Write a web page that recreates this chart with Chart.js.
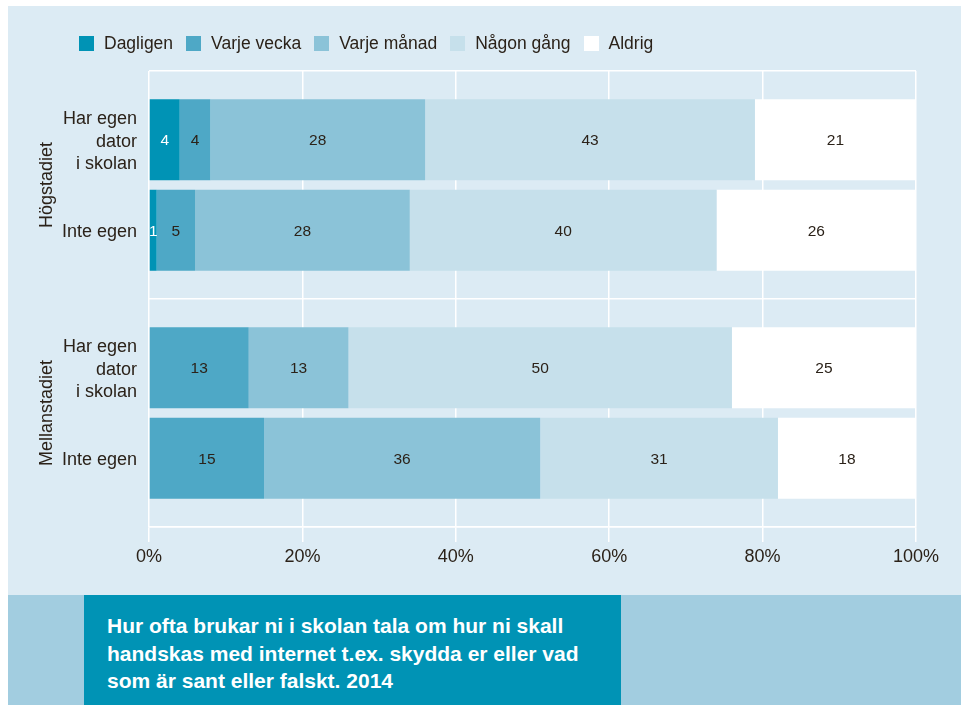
<!DOCTYPE html>
<html lang="sv">
<head>
<meta charset="UTF-8">
<title>Internet i skolan 2014</title>
<script src="https://cdn.jsdelivr.net/npm/chart.js"></script>
<style>
    body {
        margin: 0;
        background: #fff;
        font-family: "Liberation Sans", Arial, sans-serif;
        color: #2b2219;
    }
    .panel {
        position: absolute;
        left: 8px;
        top: 6px;
        width: 953px;
        height: 589px;
        background: #dcebf4;
    }
    .panel canvas {
        position: absolute;
        left: 0;
        top: 0;
    }
    #legend {
        position: absolute;
        left: 71px;
        top: 27px;
        display: flex;
        gap: 13px;
        font-size: 17.5px;
    }
    #legend .item {
        display: flex;
        align-items: center;
    }
    #legend .box {
        width: 15px;
        height: 15px;
        margin-right: 10px;
    }
    .band {
        position: absolute;
        left: 8px;
        top: 595px;
        width: 953px;
        height: 110px;
        background: #a2cde0;
    }
    .caption {
        position: absolute;
        left: 84px;
        top: 595px;
        width: 537px;
        height: 110px;
        box-sizing: border-box;
        padding: 17px 0 0 23px;
        background: #0093b5;
        color: #fff;
        font-weight: bold;
        font-size: 21px;
        line-height: 27.5px;
        white-space: nowrap;
    }
</style>
</head>
<body>
    <div class="panel">
        <canvas id="chart" width="953" height="589"></canvas>
        <div id="legend"></div>
    </div>
    <div class="band"></div>
    <div class="caption">Hur ofta brukar ni i skolan tala om hur ni skall<br>handskas med internet t.ex. skydda er eller vad<br>som är sant eller falskt. 2014</div>

<script>
    const stages = ['Högstadiet', 'Mellanstadiet'];
    const owners = [['Har egen', 'dator', 'i skolan'], ['Inte egen']];
    const frequencies = ['Dagligen', 'Varje vecka', 'Varje månad', 'Någon gång', 'Aldrig'];
    const colors = ['#0093b5', '#4ea8c6', '#8bc3d8', '#c6e0eb', '#ffffff'];

    // procent, i ordningen Dagligen .. Aldrig
    const hogstadietEgen = [4, 4, 28, 43, 21];
    const hogstadietInte = [1, 5, 28, 40, 26];
    const mellanstadietEgen = [0, 13, 13, 50, 25];
    const mellanstadietInte = [0, 15, 36, 31, 18];

    const xTicks = [0, 20, 40, 60, 80, 100];

    const textColor = '#2b2219';
    const fontFamily = '"Liberation Sans", Arial, sans-serif';

    const byOwner = [
        [hogstadietEgen, mellanstadietEgen],
        [hogstadietInte, mellanstadietInte]
    ];

    // one stack per owner group, so each stage gets two bars
    const datasets = [];
    byOwner.forEach((rows, o) => {
        frequencies.forEach((name, f) => {
            datasets.push({
                label: name,
                stack: 'owner' + o,
                data: rows.map(r => r[f]),
                backgroundColor: colors[f],
                categoryPercentage: 0.794,
                barPercentage: 0.895
            });
        });
    });

    const valueLabels = {
        id: 'valueLabels',
        afterDatasetsDraw(chart) {
            const { ctx, chartArea } = chart;
            ctx.save();
            ctx.font = '15.5px ' + fontFamily;
            ctx.textAlign = 'center';
            ctx.textBaseline = 'middle';
            chart.data.datasets.forEach((ds, i) => {
                chart.getDatasetMeta(i).data.forEach((bar, j) => {
                    const v = ds.data[j];
                    if (!v) return;
                    const right = Math.min(bar.x, chartArea.right);
                    ctx.fillStyle = ds.backgroundColor === colors[0] ? '#fff' : textColor;
                    ctx.fillText(v, (bar.base + right) / 2, bar.y + 1);
                });
            });
            ctx.restore();
        }
    };

    // row names beside each bar (the bars are stacks inside a stage)
    const rowLabels = {
        id: 'rowLabels',
        afterDraw(chart) {
            const { ctx, chartArea } = chart;
            ctx.save();
            ctx.font = '18px ' + fontFamily;
            ctx.textAlign = 'right';
            ctx.textBaseline = 'middle';
            ctx.fillStyle = textColor;
            owners.forEach((lines, o) => {
                const meta = chart.getDatasetMeta(o * frequencies.length);
                meta.data.forEach(bar => {
                    lines.forEach((line, k) => {
                        ctx.fillText(line, chartArea.left - 12, bar.y + 2 + (k - (lines.length - 1) / 2) * 22.7);
                    });
                });
            });
            ctx.restore();
        }
    };

    const chart = new Chart(document.getElementById('chart'), {
        type: 'bar',
        data: { labels: stages, datasets: datasets },
        options: {
            indexAxis: 'y',
            responsive: false,
            animation: false,
            layout: { padding: { left: 28, top: 65, right: 45, bottom: 27 } },
            plugins: {
                legend: { display: false },
                tooltip: { enabled: false }
            },
            scales: {
                x: {
                    stacked: true,
                    min: 0,
                    max: 100,
                    afterBuildTicks: scale => { scale.ticks = xTicks.map(v => ({ value: v })); },
                    afterFit: scale => { scale.height = 41; },
                    grid: { color: '#fff', lineWidth: 1.5, tickLength: 15, tickColor: '#fff' },
                    border: { color: '#fff', width: 1.5 },
                    ticks: {
                        padding: 4,
                        color: textColor,
                        font: { family: fontFamily, size: 18 },
                        callback: v => v + '%'
                    }
                },
                y: {
                    stacked: true,
                    afterFit: scale => { scale.width = 113; },
                    grid: { color: '#fff', lineWidth: 1.5, drawTicks: false },
                    border: { display: false },
                    ticks: {
                        minRotation: 90,
                        maxRotation: 90,
                        crossAlign: 'center',
                        padding: 48.5,
                        color: textColor,
                        font: { family: fontFamily, size: 18 }
                    }
                }
            }
        },
        plugins: [valueLabels, rowLabels]
    });

    // legend in html so it can start left of the plot like the original
    const legend = document.getElementById('legend');
    frequencies.forEach((name, f) => {
        const item = document.createElement('span');
        item.className = 'item';
        const box = document.createElement('span');
        box.className = 'box';
        box.style.background = colors[f];
        item.appendChild(box);
        item.appendChild(document.createTextNode(name));
        legend.appendChild(item);
    });
</script>
</body>
</html>
